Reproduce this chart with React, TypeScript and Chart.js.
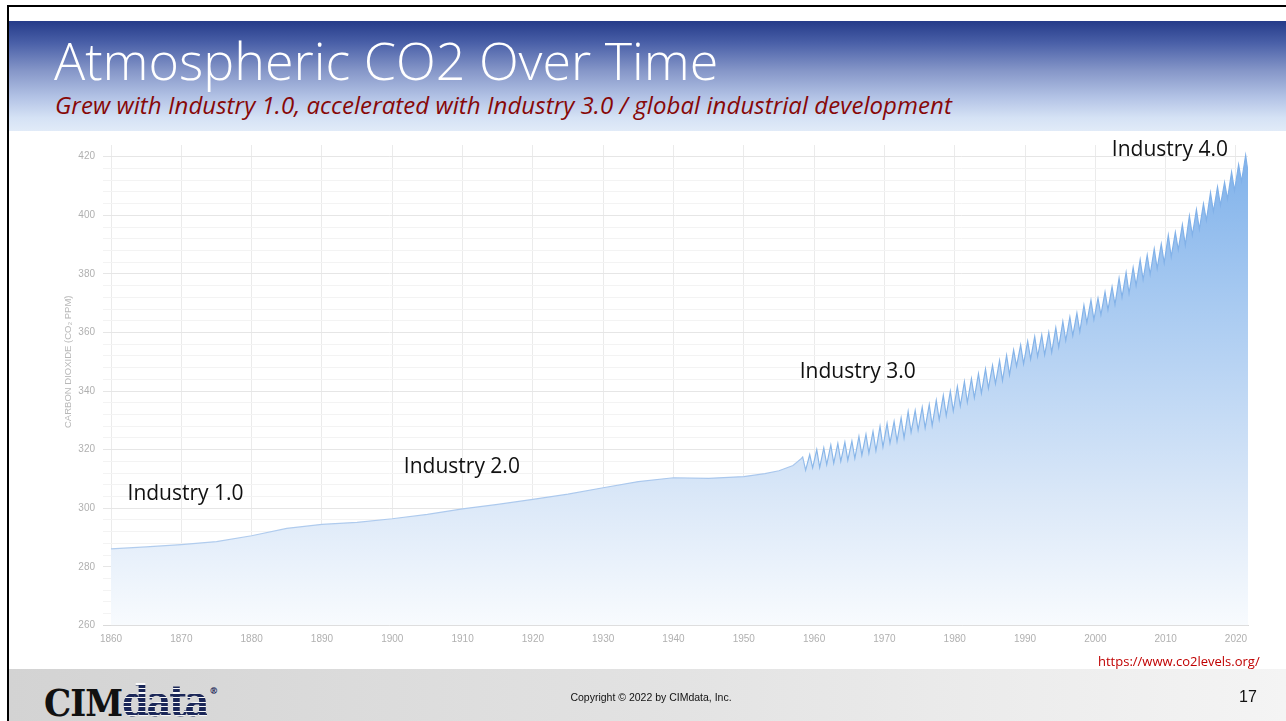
import React, { useEffect, useRef } from "react";
import { Chart, registerables } from "chart.js";

Chart.register(...registerables);

// ---- Data ----
// Ice-core / smoothed record before direct measurements
const iceYears = [1860, 1865, 1870, 1875, 1880, 1885, 1890, 1895, 1900, 1905, 1910, 1915, 1920, 1925, 1930, 1935, 1940, 1945, 1950, 1953, 1955, 1957, 1958.2];
const icePpm = [286.1, 286.8, 287.6, 288.6, 290.6, 293.1, 294.5, 295.2, 296.4, 297.9, 299.8, 301.3, 303.0, 304.8, 307.0, 309.1, 310.4, 310.2, 310.8, 311.8, 312.8, 314.6, 317.0];

// Mauna Loa: yearly seasonal maximum (May) and minimum (October)
const mlYears = [
  1958, 1959, 1960, 1961, 1962, 1963, 1964, 1965, 1966, 1967, 1968, 1969, 1970, 1971, 1972, 1973,
  1974, 1975, 1976, 1977, 1978, 1979, 1980, 1981, 1982, 1983, 1984, 1985, 1986, 1987, 1988, 1989,
  1990, 1991, 1992, 1993, 1994, 1995, 1996, 1997, 1998, 1999, 2000, 2001, 2002, 2003, 2004, 2005,
  2006, 2007, 2008, 2009, 2010, 2011, 2012, 2013, 2014, 2015, 2016, 2017, 2018, 2019, 2020, 2021,
];
const mlPeak = [
  317.5, 318.3, 320.0, 320.6, 321.6, 322.1, 322.5, 322.9, 324.5, 325.2, 326.2, 327.9, 328.9, 329.6, 330.8, 333.0,
  333.3, 334.5, 335.4, 336.8, 338.5, 339.9, 341.5, 343.2, 344.2, 345.9, 347.5, 348.8, 350.4, 352.2, 354.0, 355.7,
  357.0, 358.6, 359.2, 360.0, 361.6, 363.7, 365.2, 366.6, 369.3, 371.0, 371.7, 373.8, 375.6, 378.5, 380.5, 382.2,
  384.8, 386.4, 388.5, 390.2, 393.2, 394.2, 396.8, 399.8, 401.9, 403.9, 407.7, 409.7, 411.2, 414.7, 417.3, 420.5,
];
const mlLow = [
  313.0, 313.8, 313.9, 314.9, 315.4, 316.0, 316.4, 317.0, 318.1, 318.8, 319.6, 320.9, 322.2, 322.8, 324.0, 325.9,
  326.7, 327.4, 328.2, 330.2, 331.6, 333.2, 334.9, 336.1, 337.7, 339.3, 340.9, 342.5, 343.6, 345.5, 348.5, 349.3,
  350.9, 351.8, 352.4, 353.2, 355.0, 357.2, 358.9, 360.2, 363.3, 364.4, 366.0, 367.7, 369.5, 372.0, 373.3, 376.0,
  378.0, 379.8, 381.8, 383.7, 385.8, 388.2, 389.8, 393.2, 395.2, 398.2, 401.3, 403.4, 405.5, 408.4, 411.5, 413.3,
];
const PEAK_MONTH = 5; // May
const LOW_MONTH = 10; // October

// Axis ticks
const decadeTicks = [1860, 1870, 1880, 1890, 1900, 1910, 1920, 1930, 1940, 1950, 1960, 1970, 1980, 1990, 2000, 2010, 2020];
const ppmTicks = [260, 280, 300, 320, 340, 360, 380, 400, 420];

// Annotations (year, ppm)
const annotLabels = ["Industry 1.0", "Industry 2.0", "Industry 3.0", "Industry 4.0"];
const annotYears = [1870.6, 1909.9, 1966.2, 2010.6];
const annotPpm = [304.7, 314.1, 346.5, 422.4];

const Y_TITLE = "CARBON DIOXIDE (CO\u2082 PPM)";

function buildPoints() {
  const pts: { x: number; y: number }[] = [];
  iceYears.forEach((yr, i) => pts.push({ x: yr, y: icePpm[i] }));
  mlYears.forEach((yr, i) => {
    pts.push({ x: yr + (PEAK_MONTH - 0.5) / 12, y: mlPeak[i] });
    pts.push({ x: yr + (LOW_MONTH - 0.5) / 12, y: mlLow[i] });
  });
  return pts;
}

const overlayPlugin = {
  id: "overlayText",
  afterDatasetsDraw(chart: any) {
    const { ctx, scales, chartArea } = chart;
    const x = scales.x;
    const y = scales.y;
    ctx.save();
    ctx.font = '21px "Open Sans"';
    ctx.fillStyle = "#111111";
    ctx.textAlign = "center";
    ctx.textBaseline = "middle";
    annotLabels.forEach((t, i) => {
      ctx.fillText(t, x.getPixelForValue(annotYears[i]), y.getPixelForValue(annotPpm[i]));
    });
    // y-axis title
    ctx.translate(chartArea.left - 35, y.getPixelForValue(350));
    ctx.rotate(-Math.PI / 2);
    ctx.font = '9.5px "Liberation Sans"';
    ctx.fillStyle = "#b8b8b8";
    ctx.fillText(Y_TITLE, 0, 0);
    ctx.restore();
  },
};

function CO2Chart() {
  const ref = useRef<HTMLCanvasElement | null>(null);
  useEffect(() => {
    if (!ref.current) return;
    const points = buildPoints();
    const mlStart = mlYears[0] + (PEAK_MONTH - 0.5) / 12;
    const chart = new Chart(ref.current, {
      type: "line",
      data: {
        datasets: [
          {
            data: points,
            fill: "start",
            borderWidth: 1.2,
            pointRadius: 0,
            tension: 0,
            borderColor: (c: any) => {
              const { chart } = c;
              const area = chart.chartArea;
              if (!area) return "#8cb8ea";
              const xs = chart.scales.x;
              const g = chart.ctx.createLinearGradient(area.left, 0, area.right, 0);
              const f = (xs.getPixelForValue(mlStart) - area.left) / (area.right - area.left);
              g.addColorStop(0, "#b2cdee");
              g.addColorStop(Math.max(0, f - 0.005), "#a9c7ed");
              g.addColorStop(Math.min(1, f + 0.005), "#8ab7e9");
              g.addColorStop(1, "#80b0e8");
              return g;
            },
            backgroundColor: (c: any) => {
              const { chart } = c;
              const area = chart.chartArea;
              if (!area) return "rgba(180,210,240,0.5)";
              const g = chart.ctx.createLinearGradient(0, area.top, 0, area.bottom);
              g.addColorStop(0, "#7db0ea");
              g.addColorStop(0.33, "#a8caf1");
              g.addColorStop(0.74, "#dbe8f8");
              g.addColorStop(1, "#f8fbfe");
              return g;
            },
          },
        ],
      },
      options: {
        animation: false,
        responsive: false,
        maintainAspectRatio: false,
        layout: { padding: { left: 18, right: 8, top: 8, bottom: 0 } },
        plugins: { legend: { display: false }, tooltip: { enabled: false } },
        scales: {
          x: {
            type: "linear",
            min: 1858.86,
            max: 2021.71,
            afterBuildTicks: (s: any) => {
              s.ticks = decadeTicks.map((v) => ({ value: v }));
            },
            afterFit: (s: any) => {
              s.height = 34.6;
            },
            grid: { color: "#ebebeb", drawTicks: false },
            border: { color: "#dadada" },
            ticks: {
              padding: 8,
              color: "#b0b0b0",
              font: { family: "Liberation Sans", size: 10 },
              maxRotation: 0,
              autoSkip: false,
              callback: (v: any) => String(v),
            },
          },
          y: {
            type: "linear",
            min: 260,
            max: 424,
            ticks: {
              stepSize: 4,
              includeBounds: false,
              padding: 8,
              color: "#b0b0b0",
              font: { family: "Liberation Sans", size: 10 },
              autoSkip: false,
              callback: (v: any) => (ppmTicks.includes(Number(v)) ? String(v) : ""),
            },
            afterFit: (s: any) => {
              s.width = 45;
            },
            grid: {
              drawTicks: false,
              color: (c: any) => {
                const v = c.tick ? c.tick.value : 0;
                if (v > ppmTicks[ppmTicks.length - 1]) return "rgba(0,0,0,0)";
                return ppmTicks.includes(v) ? "#e6e6e6" : "#f3f3f3";
              },
            },
            border: { display: false },
          },
        },
      },
      plugins: [overlayPlugin],
    } as any);
    return () => chart.destroy();
  }, []);
  return (
    <canvas
      ref={ref}
      width={1216}
      height={529}
      style={{ position: "absolute", left: 40, top: 131, width: 1216, height: 529 }}
    />
  );
}

export default function App() {
  return (
    <div
      style={{
        position: "absolute",
        left: 0,
        top: 0,
        width: 1286,
        height: 721,
        overflow: "hidden",
        background: "#ffffff",
        fontFamily: '"Open Sans", sans-serif',
      }}
    >
      {/* header band */}
      <div
        style={{
          position: "absolute",
          left: 9,
          top: 21,
          width: 1277,
          height: 110,
          background:
            "linear-gradient(to bottom, #253b89 0%, #4a60a8 20%, #8596c8 45%, #b4c4e6 70%, #d5e2f5 88%, #e1ebf8 100%)",
        }}
      />
      <div
        style={{
          position: "absolute",
          left: 54,
          top: 34,
          fontSize: 52,
          fontWeight: 300,
          lineHeight: 1,
          color: "#ffffff",
          whiteSpace: "nowrap",
        }}
      >
        Atmospheric CO2 Over Time
      </div>
      <div
        style={{
          position: "absolute",
          left: 55,
          top: 93,
          fontSize: 24,
          fontStyle: "italic",
          lineHeight: 1,
          color: "#870808",
          whiteSpace: "nowrap",
          letterSpacing: 0.06,
        }}
      >
        Grew with Industry 1.0, accelerated with Industry 3.0 / global industrial development
      </div>

      <CO2Chart />

      <div
        style={{
          position: "absolute",
          left: 1098,
          top: 651,
          fontSize: 13,
          color: "#c00000",
          whiteSpace: "nowrap",
          lineHeight: "20px",
        }}
      >
        https://www.co2levels.org/
      </div>

      {/* footer */}
      <div
        style={{
          position: "absolute",
          left: 9,
          top: 669,
          width: 1277,
          height: 52,
          background: "linear-gradient(to right, #d3d3d3 0%, #e2e2e2 50%, #f4f4f4 100%)",
        }}
      />
      <div
        style={{
          position: "absolute",
          left: 44,
          top: 680,
          fontFamily: '"DejaVu Serif", serif',
          fontStretch: "condensed",
          fontWeight: 700,
          fontSize: 38,
          lineHeight: 1,
          whiteSpace: "nowrap",
          color: "#111111",
          letterSpacing: -1,
        }}
      >
        CIM
        <span
          style={{
            fontSize: 43,
            letterSpacing: -2.5,
            color: "transparent",
            backgroundImage:
              "repeating-linear-gradient(to bottom, #1b2758 0px, #1b2758 3px, rgba(255,255,255,0.85) 3px, rgba(255,255,255,0.85) 4.5px)",
            WebkitBackgroundClip: "text",
            backgroundClip: "text",
          }}
        >
          data
        </span>
        <span style={{ fontSize: 10, verticalAlign: 22, color: "#1b2758", letterSpacing: 0, marginLeft: 2 }}>®</span>
      </div>
      <div
        style={{
          position: "absolute",
          left: 0,
          width: 1302,
          top: 690,
          textAlign: "center",
          fontFamily: '"Liberation Sans", Arial, sans-serif',
          fontSize: 10.5,
          lineHeight: "14px",
          color: "#111111",
        }}
      >
        Copyright © 2022 by CIMdata, Inc.
      </div>
      <div
        style={{
          position: "absolute",
          left: 1239,
          top: 688,
          fontFamily: '"Liberation Sans", Arial, sans-serif',
          fontSize: 16,
          lineHeight: "18px",
          color: "#111111",
        }}
      >
        17
      </div>

      {/* slide border */}
      <div style={{ position: "absolute", left: 7, top: 5, width: 1279, height: 2, background: "#000" }} />
      <div style={{ position: "absolute", left: 7, top: 5, width: 2, height: 716, background: "#000" }} />
    </div>
  );
}
